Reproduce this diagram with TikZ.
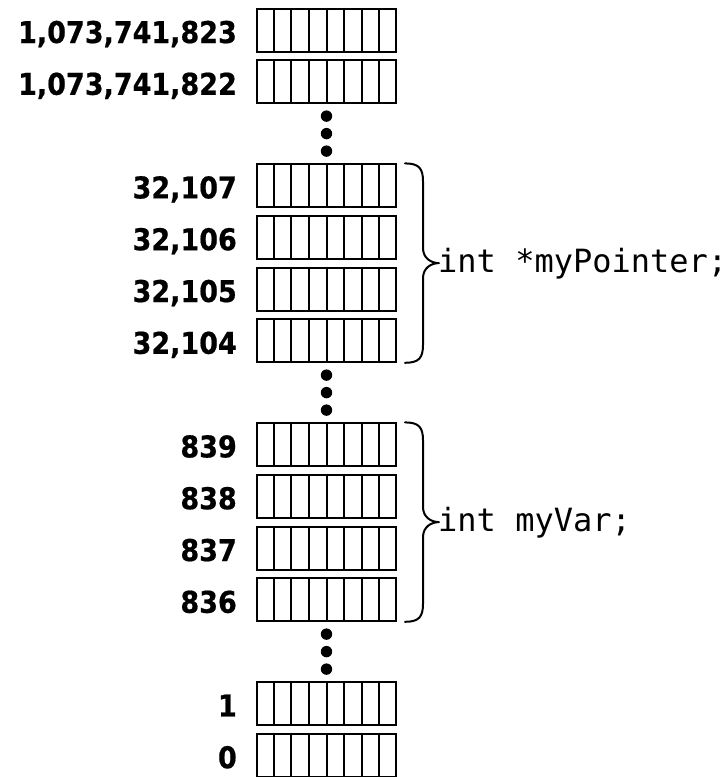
\documentclass[tikz,border=0pt]{standalone}
\usepackage{fontspec}
\usetikzlibrary{calc}
\newfontfamily\addrfont[FakeStretch=0.9,FakeBold=0.6]{DejaVu Sans Bold}
\newfontfamily\codefont{DejaVu Sans Mono}
\begin{document}
\begin{tikzpicture}[x=1pt,y=-1pt,
  byterow/.style={draw,line width=2pt,minimum width=139pt,minimum height=43pt,inner sep=0pt},
  addr/.style={anchor=base east,inner sep=0pt,font=\addrfont\fontsize{30}{30}\selectfont},
  decl/.style={anchor=west,inner sep=0pt,font=\codefont\fontsize{32}{32}\selectfont},
  bracepath/.style={line width=2pt,line cap=round,line join=round},
  vdot/.style={fill=black}]
\useasboundingbox (0,0) rectangle (728,777);

% one byte per row, eight bits per byte
\newcommand{\memrow}[3]{%
  \node[byterow] (#1) at (326.5,{8.5+51.8*#2+21.5}) {};
  \foreach \k in {1,...,7}
    \draw[line width=2pt] ($(#1.north west)!\k/8!(#1.north east)$) -- ($(#1.south west)!\k/8!(#1.south east)$);
  \node[addr] (#1l) at ($(#1.west)+(-19,13)$) {#3};
}
% vertical ellipsis between address ranges
\newcommand{\gapdots}[1]{%
  \foreach \d in {-17.5,0,17.5}
    \fill[vdot] (326.5,{8.5+51.8*#1+21.5+\d}) circle (5.7);
}
% curly brace spanning a group of rows, with its declaration
\newcommand{\membrace}[4]{%
  \coordinate (#3t) at ($(#1.north east)+(0,0.5)$);
  \coordinate (#3b) at ($(#2.south east)+(0,-0.5)$);
  \coordinate (#3m) at ($(#3t)!0.5!(#3b)$);
  \draw[bracepath] ($(#3t)+(8,0)$) .. controls +(14,0) and +(0,-13) .. ($(#3t)+(26,18)$)
     -- ($(#3m)+(26,-15)$) .. controls +(0,10) and +(-8,0) .. ($(#3m)+(42,0)$)
     .. controls +(-8,0) and +(0,-10) .. ($(#3m)+(26,15)$)
     -- ($(#3b)+(26,-18)$) .. controls +(0,13) and +(14,0) .. ($(#3b)+(8,0)$);
  \node[decl] (#3d) at ($(#3m)+(41,1)$) {#4};
}

\memrow{rA}{0}{1,073,741,823}
\memrow{rB}{1}{1,073,741,822}
\gapdots{2}
\memrow{rC}{3}{32,107}
\memrow{rD}{4}{32,106}
\memrow{rE}{5}{32,105}
\memrow{rF}{6}{32,104}
\gapdots{7}
\memrow{rG}{8}{839}
\memrow{rH}{9}{838}
\memrow{rI}{10}{837}
\memrow{rJ}{11}{836}
\gapdots{12}
\memrow{rK}{13}{1}
\memrow{rL}{14}{0}

\membrace{rC}{rF}{bp}{int *myPointer;}
\membrace{rG}{rJ}{bv}{int myVar;}
\end{tikzpicture}
\end{document}
